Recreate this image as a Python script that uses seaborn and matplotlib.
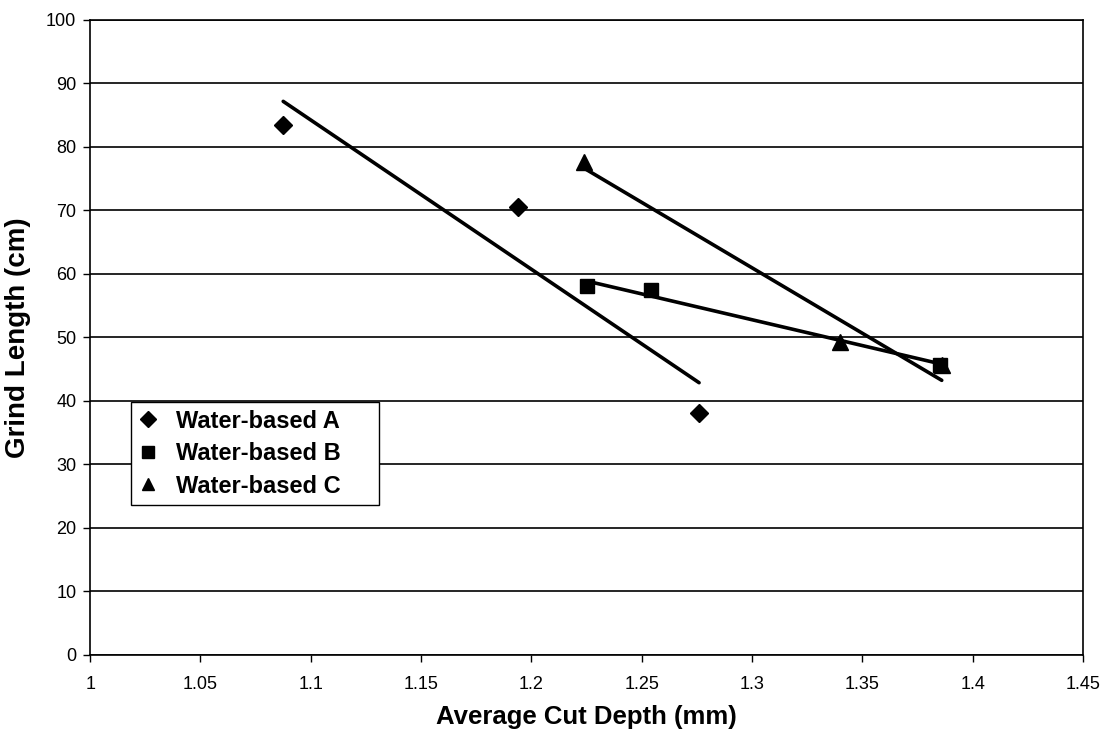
#!/usr/bin/env python
# -*- coding: utf-8 -*-

"""
Grind length vs average cut depth for three water-based fluids
"""

import matplotlib.pyplot as plt
import numpy as np
import pandas as pd
import seaborn as sns

# values
depth_a = [1.0875, 1.194, 1.276]
grind_a = [83.5, 70.6, 38.1]
depth_b = [1.225, 1.254, 1.385]
grind_b = [58.1, 57.5, 45.7]
depth_c = [1.224, 1.340, 1.386]
grind_c = [77.6, 49.3, 45.7]

labels = ['Water-based A', 'Water-based B', 'Water-based C']
markers = ['D', 's', '^']
sizes = [9, 10, 11]

x_ticks = [1, 1.05, 1.1, 1.15, 1.2, 1.25, 1.3, 1.35, 1.4, 1.45]
x_tick_labels = ['1', '1.05', '1.1', '1.15', '1.2', '1.25', '1.3', '1.35', '1.4', '1.45']
y_ticks = list(range(0, 101, 10))


def main():
  sns.set_theme(style='white')
  plt.rcParams['font.family'] = ['Liberation Sans', 'DejaVu Sans']

  frames = []
  for x, y, lab in zip([depth_a, depth_b, depth_c],
                       [grind_a, grind_b, grind_c], labels):
    frames.append(pd.DataFrame({'depth': x, 'grind': y, 'label': lab}))
  df = pd.concat(frames)

  fig = plt.figure(figsize=(11.13, 7.38), dpi=100)
  ax = fig.add_axes([0.081, 0.1125, 0.892, 0.8605])

  for y in y_ticks:
    ax.axhline(y, color='black', lw=1.2, zorder=0)

  for lab, m, s in zip(labels, markers, sizes):
    sub = df[df['label'] == lab]
    # linear trendline over the data range
    sns.regplot(data=sub, x='depth', y='grind', ax=ax, scatter=False,
                ci=None, truncate=True, color='black',
                line_kws={'lw': 2.6, 'zorder': 2})
    ax.plot(sub['depth'], sub['grind'], linestyle='none', marker=m,
            markersize=s, color='black', label=lab, zorder=3)

  ax.set_xlim(1, 1.45)
  ax.set_ylim(0, 100)
  ax.set_xticks(x_ticks)
  ax.set_xticklabels(x_tick_labels)
  ax.set_yticks(y_ticks)
  ax.tick_params(axis='both', direction='out', length=5, width=1,
                 color='black', labelsize=13, labelcolor='black', pad=5)
  ax.tick_params(axis='x', pad=10)
  ax.tick_params(left=True, bottom=True)
  for sp in ax.spines.values():
    sp.set_color('black')
    sp.set_linewidth(1.2)

  ax.set_xlabel('Average Cut Depth (mm)', fontsize=18.5, fontweight='bold',
                labelpad=9, color='black')
  ax.set_ylabel('Grind Length (cm)', fontsize=20, fontweight='bold',
                labelpad=11, color='black')

  leg = ax.legend(loc='lower left', bbox_to_anchor=(0.041, 0.236, 0.25, 0.157),
                  mode='expand', fancybox=False, framealpha=1,
                  edgecolor='black', prop={'size': 17, 'weight': 'bold'},
                  handlelength=0.8, handletextpad=0.8, labelspacing=0.4,
                  borderpad=0.32, borderaxespad=0, markerscale=0.85)
  leg.get_frame().set_linewidth(1.0)
  for t in leg.get_texts():
    t.set_color('black')

  plt.savefig('out.png', dpi=100)
  plt.close()


if __name__ == '__main__':
  main()
